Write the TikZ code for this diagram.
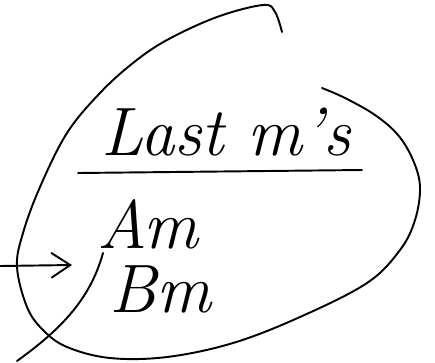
\documentclass[tikz,border=0pt]{standalone}
\usepackage{tikz}
\usetikzlibrary{arrows.meta, positioning}

\tikzset{
  pen/.style={line width=1.1pt, line cap=round, line join=round},
  hand/.style={font=\fontsize{39}{42}\selectfont\itshape, inner sep=0pt}
}

\begin{document}
\begin{tikzpicture}[x=0.02cm, y=-0.02cm]

  \useasboundingbox (0,0) rectangle (435,362);

  % Heading and the two entries
  \node[hand, anchor=base] (last) at (226,155) {Last m's};
  \node[hand, anchor=base] (am) at (148,248) {Am};
  \node[hand, anchor=base] (bm) at (160,312) {Bm};

  % Underline below heading
  \coordinate (ulA) at (78,173);
  \coordinate (ulB) at (362,170);
  \draw[pen] (ulA) -- (ulB);

  % Loop round everything
  \draw[pen] plot[smooth, tension=0.6] coordinates {
    (282,32) (275,12) (263,5) (217,17) (167,40) (133,63) (100,93)
    (67,133) (40,187) (23,233) (17,267) (27,307) (43,330) (67,347)
    (110,358) (167,357) (233,343) (300,317) (367,283) (400,250)
    (415,220) (420,187) (413,160) (398,135) (375,115) (345,98) (322,88)};

  % Arrow coming in from the left
  \coordinate (inA) at (0,266);
  \coordinate (inB) at (72,265);
  \draw[pen, -{Straight Barb[length=3.8mm, width=5mm]}] (inA) -- (inB);

  % Stroke crossing the loop at bottom left
  \coordinate (crA) at (17,361);
  \coordinate (crB) at (103,253);
  \draw[pen] (crA) .. controls (60,330) and (90,300) .. (crB);

\end{tikzpicture}
\end{document}
